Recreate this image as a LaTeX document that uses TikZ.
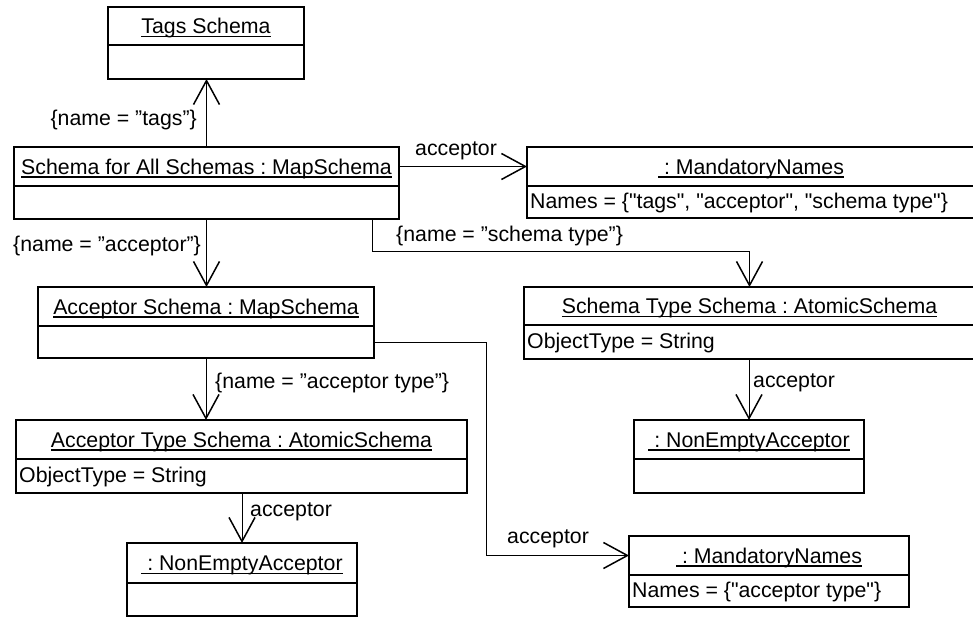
\documentclass[tikz,border=0pt]{standalone}
\usepackage{fontspec}
\setmainfont{Liberation Sans}[Ligatures=TeXOff]
\usetikzlibrary{arrows.meta,fit}
\frenchspacing

\newcommand\umlfont{\fontsize{21.3}{25}\selectfont}
\newsavebox\ulsave
% underline at a fixed depth, independent of descenders
\newcommand\ulbox[1]{\sbox\ulsave{#1}\rlap{\vrule width \wd\ulsave height -2.2pt depth 3.6pt}\usebox\ulsave}

% object box: name, x1, y1, x2, y2, divider y, title, attribute
\newcommand\objbox[8]{%
  \node[objframe, fit={(#2,#3) (#4,#5)}] (#1) {};
  \draw[objdiv] (#2,#6) -- (#4,#6);
  \coordinate (#1-tc) at ({(#2+#4)/2},{(#3+#6)/2});
  \coordinate (#1-ac) at ({(#2+#4)/2},{(#6+#5)/2});
  \node[objtitle] (#1-title) at ({(#2+#4)/2},{(#3+#6)/2+7.6}) {\ulbox{#7}};
  \node[objattr] (#1-attr) at (#2,{(#6+#5)/2+6.8}) {#8};
}

\begin{document}
\begin{tikzpicture}[x=1pt,y=-1pt,
  objframe/.style={draw, line width=1.8pt, inner sep=0pt, outer sep=0pt},
  objdiv/.style={line width=1.6pt},
  objtitle/.style={inner sep=0pt, anchor=base, font=\umlfont},
  objattr/.style={inner sep=0pt, inner xsep=3pt, anchor=base west, font=\umlfont},
  assoc/.style={line width=1pt, -{Straight Barb[length=24pt,width=26pt,line width=1.5pt]}},
  lbl/.style={inner sep=0pt, anchor=base west, font=\umlfont}]

\useasboundingbox (0,0) rectangle (973,617);

% objects
\objbox{tags}{108}{7}{304}{79}{45}{Tags Schema}{}
\objbox{main}{14}{147}{399}{219}{186}{Schema for All Schemas : MapSchema}{}
\objbox{mnA}{527}{147}{975}{218}{186}{\ : MandatoryNames}{Names = \{"tags", "acceptor", "schema type"\}}
\objbox{acc}{38}{287}{374}{358}{326}{Acceptor Schema : MapSchema}{}
\objbox{sts}{524}{287}{975}{359}{325}{Schema Type Schema : AtomicSchema}{ObjectType = String}
\objbox{ats}{16}{420}{467}{493}{459}{Acceptor Type Schema : AtomicSchema}{ObjectType = String}
\objbox{neaA}{127}{543}{357}{616}{583}{\ : NonEmptyAcceptor}{}
\objbox{neaB}{634}{420}{864}{493}{459}{\ : NonEmptyAcceptor}{}
\objbox{mnB}{629}{536}{909}{607}{575}{\ : MandatoryNames}{Names = \{"acceptor type"\}}

% bend points of the routed links
\coordinate (stsbend) at (372,252);
\coordinate (mnbend) at (486,341);

% links
\draw[assoc] (main.north) -- (main.north |- tags.south);
\draw[assoc] (main.east |- main-tc) -- (mnA.west |- main-tc);
\draw[assoc] (main.south -| stsbend) -- (stsbend) -| (sts.north);
\draw[assoc] (main.south) -- (main.south |- acc.north);
\draw[assoc] (acc.south) -- (acc.south |- ats.north);
\draw[assoc] (ats.south -| neaA.north) -- (neaA.north);
\draw[assoc] (acc.east |- acc-ac) -- (mnbend |- acc-ac) |- (mnB.west |- mnB-tc);
\draw[assoc] (sts.south -| neaB.north) -- (neaB.north);

% link labels
\node[lbl, anchor=base east] (l-tags) at (197,126) {\{name = ”tags”\}};
\node[lbl] (l-accA) at (415,156) {acceptor};
\node[lbl] (l-st) at (396,242) {\{name = ”schema type”\}};
\node[lbl] (l-acc) at (13,252) {\{name = ”acceptor”\}};
\node[lbl] (l-at) at (215,388) {\{name = ”acceptor type”\}};
\node[lbl] (l-accB) at (250,516) {acceptor};
\node[lbl] (l-accC) at (753,387) {acceptor};
\node[lbl] (l-accD) at (507,543) {acceptor};
\end{tikzpicture}
\end{document}
